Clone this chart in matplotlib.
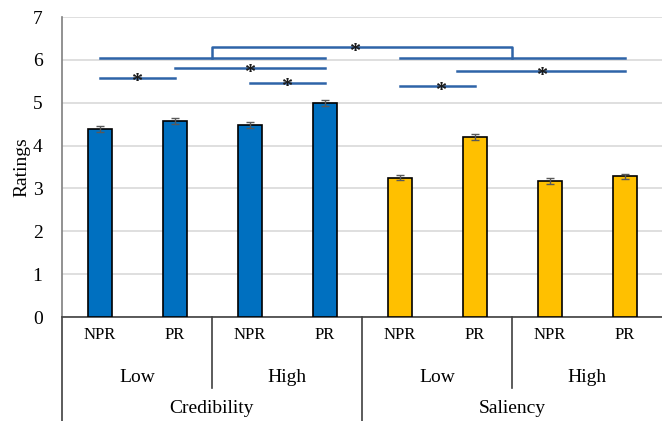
import matplotlib
matplotlib.use("Agg")
import matplotlib.pyplot as plt
from matplotlib.lines import Line2D
import numpy as np

plt.rcParams['font.family'] = ['Liberation Serif', 'DejaVu Serif']

# mean ratings and standard errors per condition
conditions = ['NPR', 'PR', 'NPR', 'PR', 'NPR', 'PR', 'NPR', 'PR']
levels = ['Low', 'High', 'Low', 'High']
factors = ['Credibility', 'Saliency']
ratings = [4.38, 4.57, 4.49, 5.00, 3.25, 4.20, 3.18, 3.28]
errors = [0.07, 0.07, 0.07, 0.07, 0.06, 0.07, 0.07, 0.05]
colors = ['#0070C0'] * 4 + ['#FFC000'] * 4

# significance lines: (start bar, end bar, height, star position)
sig_lines = [
    (0, 3, 6.05, None),
    (4, 7, 6.05, None),
    (1, 3, 5.80, 2.0),
    (0, 1, 5.58, 0.5),
    (2, 3, 5.46, 2.5),
    (4.77, 7, 5.73, 5.9),
    (4, 5, 5.38, 4.55),
]
# bracket between the two factors
bracket = (1.5, 5.5, 6.29, 6.05, 3.4)

fig = plt.figure(figsize=(6.62, 4.21), dpi=100)
ax = fig.add_axes([62 / 662, 104 / 421, 600 / 662, 300 / 421])

x = np.arange(len(ratings))
ax.bar(x, ratings, width=0.32, color=colors, edgecolor='black', linewidth=1.2, zorder=3)
ax.errorbar(x, ratings, yerr=errors, fmt='none', ecolor='#595959', elinewidth=1,
            capsize=3, capthick=1, zorder=4)

ax.set_xlim(-0.5, 7.5)
ax.set_ylim(0, 7)
ax.set_yticks(range(8))
ax.tick_params(axis='y', length=0, pad=14, labelsize=14)
ax.set_xticks([])
ax.yaxis.grid(True, color='#D9D9D9', linewidth=1.2, zorder=0)
ax.set_axisbelow(True)
for s in ['top', 'right']:
    ax.spines[s].set_visible(False)
ax.spines['left'].set_color('#7F7F7F')
ax.spines['left'].set_linewidth(1.2)
ax.spines['bottom'].set_color('#404040')
ax.spines['bottom'].set_linewidth(1.2)
ax.set_ylabel('Ratings', fontsize=14, labelpad=2)

line_color = '#2E64A8'
for x0, x1, y, sx in sig_lines:
    ax.plot([x0, x1], [y, y], color=line_color, lw=1.8, zorder=5)
    if sx is not None:
        ax.text(sx, y - 0.1, '*', ha='center', va='center', fontsize=16,
                fontweight='bold', color='#1a1a1a', zorder=6)
bx0, bx1, by, bbot, bsx = bracket
ax.plot([bx0, bx0, bx1, bx1], [bbot, by, by, bbot], color=line_color, lw=1.8, zorder=5)
ax.text(bsx, by - 0.1, '*', ha='center', va='center', fontsize=16,
        fontweight='bold', color='#1a1a1a', zorder=6)

# multi-level category axis
trans = ax.get_xaxis_transform()
for i, c in enumerate(conditions):
    ax.text(i, -0.06, c, transform=trans, ha='center', va='center', fontsize=12)
for i, lv in enumerate(levels):
    ax.text(2 * i + 0.5, -0.2, lv, transform=trans, ha='center', va='center', fontsize=14)
for i, f in enumerate(factors):
    ax.text(4 * i + 1.5, -0.305, f, transform=trans, ha='center', va='center', fontsize=14)

for xs, ybot in [(-0.5, -0.36), (3.5, -0.36), (1.5, -0.237), (5.5, -0.237)]:
    ax.add_line(Line2D([xs, xs], [0, ybot], transform=trans, color='#404040',
                       lw=1.2, clip_on=False))

fig.savefig('out.png', dpi=100)
